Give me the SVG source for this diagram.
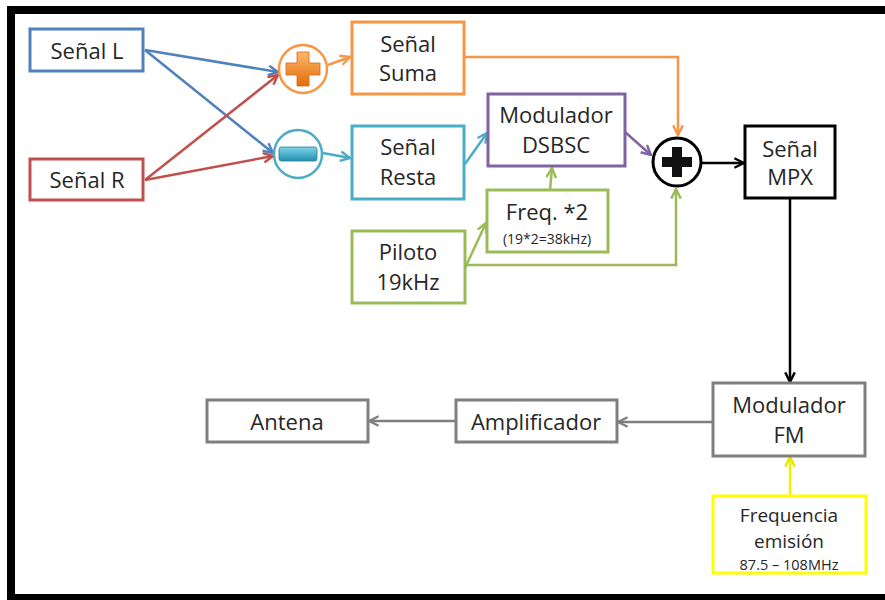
<svg xmlns="http://www.w3.org/2000/svg" width="885" height="600" viewBox="0 0 885 600">
<style>
text{font-family:"Open Sans","Liberation Sans",sans-serif;font-size:22px;fill:#262626;text-anchor:middle}
.box{fill:#fff;stroke-width:3}
.c{fill:none;stroke-width:2.5}
.sm{font-size:14px}
</style>
<defs>
<marker id="aB" viewBox="0 0 10 10" refX="9" refY="5" markerUnits="userSpaceOnUse" markerWidth="12" markerHeight="12" orient="auto"><path d="M1,1 L9,5 L1,9" fill="none" stroke="#4F81BD" stroke-width="2"/></marker>
<marker id="aR" viewBox="0 0 10 10" refX="9" refY="5" markerUnits="userSpaceOnUse" markerWidth="12" markerHeight="12" orient="auto"><path d="M1,1 L9,5 L1,9" fill="none" stroke="#C0504D" stroke-width="2"/></marker>
<marker id="aO" viewBox="0 0 10 10" refX="9" refY="5" markerUnits="userSpaceOnUse" markerWidth="12" markerHeight="12" orient="auto"><path d="M1,1 L9,5 L1,9" fill="none" stroke="#F79646" stroke-width="2"/></marker>
<marker id="aT" viewBox="0 0 10 10" refX="9" refY="5" markerUnits="userSpaceOnUse" markerWidth="12" markerHeight="12" orient="auto"><path d="M1,1 L9,5 L1,9" fill="none" stroke="#4BACC6" stroke-width="2"/></marker>
<marker id="aP" viewBox="0 0 10 10" refX="9" refY="5" markerUnits="userSpaceOnUse" markerWidth="12" markerHeight="12" orient="auto"><path d="M1,1 L9,5 L1,9" fill="none" stroke="#8064A2" stroke-width="2"/></marker>
<marker id="aG" viewBox="0 0 10 10" refX="9" refY="5" markerUnits="userSpaceOnUse" markerWidth="12" markerHeight="12" orient="auto"><path d="M1,1 L9,5 L1,9" fill="none" stroke="#9BBB59" stroke-width="2"/></marker>
<marker id="aK" viewBox="0 0 10 10" refX="9" refY="5" markerUnits="userSpaceOnUse" markerWidth="12" markerHeight="12" orient="auto"><path d="M1,1 L9,5 L1,9" fill="none" stroke="#000" stroke-width="2"/></marker>
<marker id="aY2" viewBox="0 0 10 10" refX="9" refY="5" markerUnits="userSpaceOnUse" markerWidth="12" markerHeight="12" orient="auto"><path d="M1,1 L9,5 L1,9" fill="none" stroke="#E6E600" stroke-width="2"/></marker>
<marker id="aN" viewBox="0 0 10 10" refX="9" refY="5" markerUnits="userSpaceOnUse" markerWidth="12" markerHeight="12" orient="auto"><path d="M1,1 L9,5 L1,9" fill="none" stroke="#7F7F7F" stroke-width="2"/></marker>
<linearGradient id="gO" x1="0" y1="0" x2="0" y2="1"><stop offset="0" stop-color="#FBB86A"/><stop offset="1" stop-color="#E36C09"/></linearGradient>
<linearGradient id="gT" x1="0" y1="0" x2="0" y2="1"><stop offset="0" stop-color="#7FD4EA"/><stop offset="1" stop-color="#2290AE"/></linearGradient>
</defs>
<rect x="0" y="0" width="885" height="600" fill="#fff"/>
<rect x="11" y="10" width="900" height="588" fill="#fff" stroke="#000" stroke-width="8"/>

<g id="connectors" class="c">
<line x1="145" y1="50" x2="278" y2="72" stroke="#4F81BD" marker-end="url(#aB)"/>
<line x1="145" y1="50" x2="273" y2="153" stroke="#4F81BD" marker-end="url(#aB)"/>
<line x1="145" y1="180" x2="278" y2="75" stroke="#C0504D" marker-end="url(#aR)"/>
<line x1="145" y1="180" x2="273" y2="156" stroke="#C0504D" marker-end="url(#aR)"/>
<line x1="328" y1="65" x2="350" y2="57" stroke="#F79646" marker-end="url(#aO)"/>
<line x1="323" y1="153" x2="350" y2="158" stroke="#4BACC6" marker-end="url(#aT)"/>
<line x1="465" y1="164" x2="487" y2="133" stroke="#4BACC6" marker-end="url(#aT)"/>
<polyline points="465,57 678,57 678,135" stroke="#F79646" marker-end="url(#aO)"/>
<line x1="625" y1="132" x2="651" y2="155" stroke="#8064A2" marker-end="url(#aP)"/>
<line x1="550" y1="190" x2="552" y2="168" stroke="#9BBB59" marker-end="url(#aG)"/>
<line x1="465" y1="268" x2="486" y2="223" stroke="#9BBB59" marker-end="url(#aG)"/>
<polyline points="465,265 676,265 676,189" stroke="#9BBB59" marker-end="url(#aG)"/>
<line x1="702" y1="163" x2="744" y2="163" stroke="#000" marker-end="url(#aK)"/>
<line x1="790" y1="198" x2="790" y2="382" stroke="#000" marker-end="url(#aK)"/>
<line x1="790" y1="495" x2="790" y2="457" stroke="#F2F200" marker-end="url(#aY2)"/>
<line x1="713" y1="422" x2="618" y2="422" stroke="#7F7F7F" marker-end="url(#aN)"/>
<line x1="456" y1="421" x2="369" y2="421" stroke="#7F7F7F" marker-end="url(#aN)"/>
</g>

<g id="senal-l"><rect class="box" x="30" y="29" width="113" height="42" stroke="#4F81BD"/><text x="87" y="59">Señal L</text></g>
<g id="senal-r"><rect class="box" x="30" y="159" width="113" height="41" stroke="#C0504D"/><text x="87" y="188">Señal R</text></g>
<g id="suma-op"><circle cx="303" cy="69" r="24" fill="#fff" stroke="#F79646" stroke-width="2.5"/><path d="M297,52 h12 v11 h11 v12 h-11 v11 h-12 v-11 h-11 v-12 h11z" fill="url(#gO)" stroke="#D2691E" stroke-width="0.8"/></g>
<g id="resta-op"><circle cx="298" cy="154" r="24" fill="#fff" stroke="#4BACC6" stroke-width="2.5"/><rect x="279" y="147" width="38" height="14" rx="2.5" fill="url(#gT)" stroke="#1F7F99" stroke-width="0.8"/></g>
<g id="senal-suma"><rect class="box" x="352" y="22" width="112" height="72" stroke="#F79646"/><text x="408" y="52">Señal</text><text x="408" y="81">Suma</text></g>
<g id="senal-resta"><rect class="box" x="352" y="126" width="112" height="73" stroke="#4BACC6"/><text x="408" y="155">Señal</text><text x="408" y="185">Resta</text></g>
<g id="modulador-dsbsc"><rect class="box" x="488" y="94" width="137" height="72" stroke="#8064A2"/><text x="556" y="123">Modulador</text><text x="556" y="153">DSBSC</text></g>
<g id="freq2"><rect class="box" x="487" y="190" width="121" height="62" stroke="#9BBB59"/><text x="547" y="220">Freq. *2</text><text class="sm" x="547" y="244">(19*2=38kHz)</text></g>
<g id="piloto"><rect class="box" x="352" y="231" width="113" height="72" stroke="#9BBB59"/><text x="408" y="260">Piloto</text><text x="408" y="290">19kHz</text></g>
<g id="sumador"><circle cx="677" cy="162" r="24" fill="#fff" stroke="#000" stroke-width="3"/><path d="M672,147 h10 v10 h10 v10 h-10 v10 h-10 v-10 h-10 v-10 h10z" fill="#111"/></g>
<g id="senal-mpx"><rect class="box" x="745" y="126" width="90" height="72" stroke="#000"/><text x="790" y="157">Señal</text><text x="790" y="185">MPX</text></g>
<g id="modulador-fm"><rect class="box" x="713" y="383" width="152" height="73" stroke="#7F7F7F"/><text x="789" y="413">Modulador</text><text x="789" y="443">FM</text></g>
<g id="frequencia"><rect class="box" x="713" y="496" width="153" height="77" stroke="#FFFF00"/><text x="789" y="522" style="font-size:19px">Frequencia</text><text x="789" y="548" style="font-size:19px">emisión</text><text x="789" y="570" style="font-size:14.5px">87.5 – 108MHz</text></g>
<g id="amplificador"><rect class="box" x="456" y="400" width="161" height="42" stroke="#7F7F7F"/><text x="536" y="430">Amplificador</text></g>
<g id="antena"><rect class="box" x="207" y="400" width="161" height="42" stroke="#7F7F7F"/><text x="287" y="430">Antena</text></g>
</svg>
